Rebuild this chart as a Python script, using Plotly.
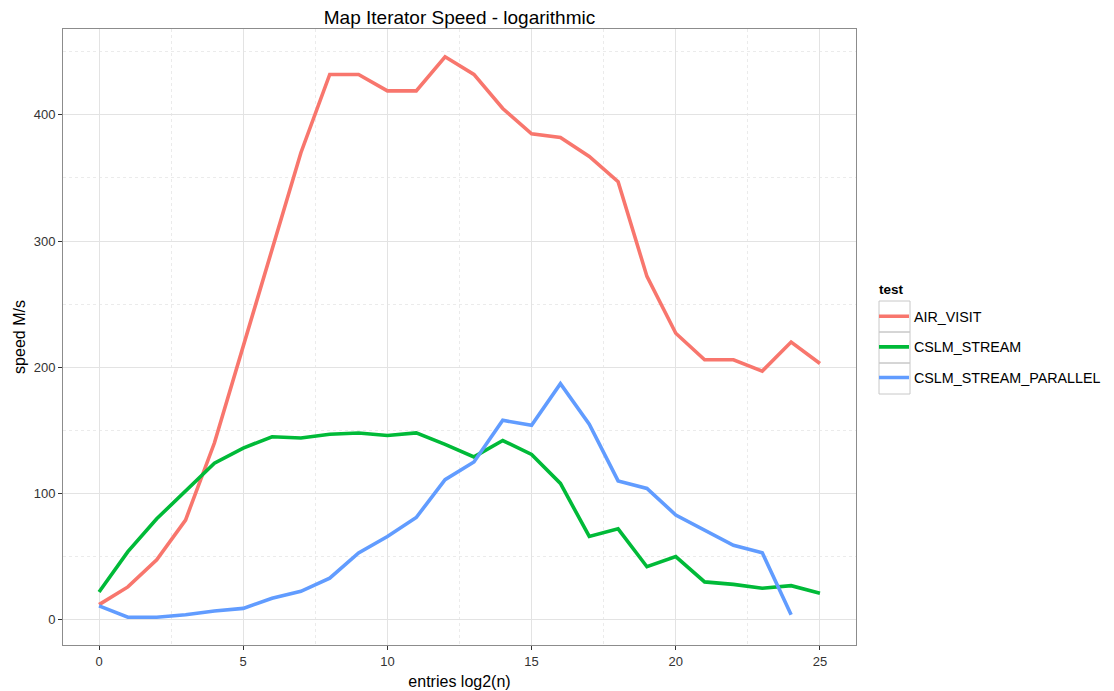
import plotly.graph_objects as go

# log2 of the number of map entries
entries_log2 = list(range(0, 26))

# iteration speed in M/s per test
air_visit = [12, 26, 47.5, 79, 140, 216, 293, 370, 432, 432, 419, 419, 446,
             432, 405, 385, 382, 367, 347, 272, 227, 206, 206, 197, 220, 203]
cslm_stream = [22, 54, 80, 102, 124, 136, 145, 144, 147, 148, 146, 148, 139,
               129, 142, 131, 108, 66, 72, 42, 50, 30, 28, 25, 27, 21]
cslm_stream_parallel = [11, 2, 2, 4, 7, 9, 17, 22.5, 33, 53, 66, 81, 111,
                        125, 158, 154, 187, 155, 110, 104, 83, 71, 59, 53, 4]

series = [
    ("AIR_VISIT", air_visit, "#F8766D"),
    ("CSLM_STREAM", cslm_stream, "#00BA38"),
    ("CSLM_STREAM_PARALLEL", cslm_stream_parallel, "#619CFF"),
]

FONT = "Liberation Sans, Arial, sans-serif"

fig = go.Figure()
for name, values, color in series:
    fig.add_trace(go.Scatter(
        x=entries_log2[:len(values)], y=values, name=name, mode="lines",
        line=dict(color=color, width=3.6), legendgroup=name,
    ))

W, H = 1114, 691
L, R, T, B = 63, 258, 29, 46
pw, ph = W - L - R, H - T - B


def px_x(p):
    return (p - L) / pw


def px_y(p):
    return (H - B - p) / ph


# grey frames around the legend keys
shapes = []
for top in (301, 332, 363):
    shapes.append(dict(type="rect", xref="paper", yref="paper",
                       x0=px_x(879), x1=px_x(910), y0=px_y(top + 31), y1=px_y(top),
                       line=dict(color="#c8c8c8", width=1), fillcolor="rgba(0,0,0,0)",
                       layer="below"))

axis_common = dict(
    showline=True, linecolor="#8c8c8c", linewidth=1, mirror=True,
    ticks="outside", ticklen=4, tickcolor="#333333", tickwidth=1,
    showgrid=True, gridcolor="#e3e3e3", gridwidth=1, zeroline=False,
    tickfont=dict(family=FONT, size=13, color="#333333"),
)

fig.update_layout(
    width=W, height=H,
    margin=dict(l=L, r=R, t=T, b=B, autoexpand=False),
    paper_bgcolor="white", plot_bgcolor="white",
    font=dict(family=FONT, color="black"),
    title=dict(text="Map Iterator Speed - logarithmic", x=0.5, xref="paper",
               y=1 - 17 / H, yref="container", yanchor="middle", xanchor="center",
               font=dict(family=FONT, size=19, color="black")),
    xaxis=dict(range=[-1.25, 26.25], tickmode="linear", tick0=0, dtick=5,
               minor=dict(tick0=0, dtick=2.5, showgrid=True, griddash="dot",
                          gridcolor="#ebebeb", ticks=""),
               title=dict(text="entries log2(n)", standoff=8,
                          font=dict(family=FONT, size=16, color="black")),
               **axis_common),
    yaxis=dict(range=[-20, 468], tickmode="linear", tick0=0, dtick=100,
               minor=dict(tick0=0, dtick=50, showgrid=True, griddash="dot",
                          gridcolor="#ebebeb", ticks=""),
               title=dict(text="speed M/s", standoff=4,
                          font=dict(family=FONT, size=16, color="black")),
               **axis_common),
    legend=dict(x=px_x(874), xanchor="left", y=px_y(300.5), yanchor="top",
                bgcolor="rgba(0,0,0,0)", tracegroupgap=9, itemwidth=30,
                font=dict(family=FONT, size=14.3, color="black")),
    annotations=[dict(text="<b>test</b>", xref="paper", yref="paper",
                      x=px_x(877), y=px_y(289), xanchor="left", yanchor="middle",
                      showarrow=False,
                      font=dict(family=FONT, size=13.5, color="black"))],
    shapes=shapes,
)

fig.write_html("out.html")
